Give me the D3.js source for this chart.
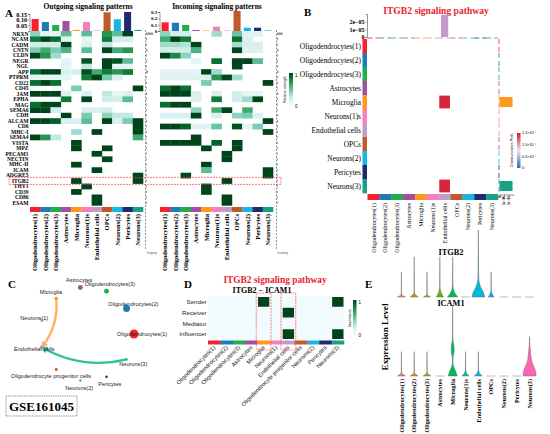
<!DOCTYPE html>
<html><head><meta charset="utf-8">
<script src="https://cdn.jsdelivr.net/npm/d3@7"></script>
<style>body{margin:0;background:#fff}svg{display:block}</style>
</head><body>
<svg id="chart" width="550" height="434"></svg>
<script>
// ---------------- DATA ----------------
const cellTypes = ["Oligodendrocytes(1)","Oligodendrocytes(2)","Oligodendrocytes(3)","Astrocytes","Microglia","Neurons(1)","Endothelial cells","OPCs","Neurons(2)","Pericytes","Neurons(3)"];
const cellLabelsAB = ["Oligodendrocytes(1)","Oligodendrocytes(2)","Oligodendrocytes(3)","Astrocytes","Microglia","Neurons(1)s","Endothelial cells","OPCs","Neurons(2)","Pericytes","Neurons(3)"];
const cellLabelsCD = ["Oligodendrocytes(1)","Oligodendrocytes(2)","Oligodendrocytes(3)","Astrocytes","Microglia","Neurons(1)","Endothelial cells","Oligodendrocyte progenitor cells","Neurons(2)","Pericytes","Neurons(3)"];
const cellColors = ["#f8202c","#1f7ab6","#20b04b","#a24fa3","#fd9a1e","#f680be","#c49bc9","#c05a2a","#19b5e6","#1f2a6f","#16a283"];
const violinColors = ["#F8766D","#DB8E00","#AEA200","#64B200","#00BD5C","#00C1A7","#00BADE","#00A6FF","#B385FF","#EF67EB","#FF63B6"];

const pathways = ["NRXN","NCAM","CADM","CNTN","CLDN","NEGR","NGL","APP","PTPRM","CD22","CD45","JAM","EPHA","MAG","SEMA6","CDH","ALCAM","CD6","MHC-I","SEMA4","VISTA","MPZ","PECAM1","NECTIN","MHC-II","ICAM","ADGRE5","ITGB2","THY1","CD39","CD86","ESAM"];

const outgoing = [
 [0.35,0.05,0.05,0.5,0,0.5,0,0.7,0.5,1,0],
 [0.8,1,0.85,0.08,0,0.05,0,0.8,0.15,0.15,0],
 [0.15,0.15,0.15,1,0,0.1,0,0.2,0,0,0],
 [0.4,0.6,0.4,0.55,0,0.5,0,1,0.6,0.7,0],
 [1,0.7,0.3,0,0,0,0,0,0,0,0],
 [0,0,0,0.05,0,0.95,0,1,0.95,0.5,0],
 [0,0,0,0.05,0,0.2,0,1,0.05,0.05,0],
 [0.85,1,1,0.1,0.1,0.95,0.6,0.8,0.7,0.8,0],
 [0.05,0.05,0.05,0.05,0,0.8,1,0.4,0.1,0,0],
 [0.85,1,0.85,0,0,0,0,0,0,0,0],
 [0,0,0,0,0.4,0,0,0,0,0,1],
 [1,1,1,0.1,0,0.1,0,0.2,0.05,0.1,0],
 [0,0,0,0.8,0,1,0,0.15,0.15,0.5,0],
 [0.85,1,1,0,0,0,0,0,0,0,0],
 [1,1,0.15,0,0,0.1,0.1,0.15,0,0,0],
 [0,0,0,1,0,0.4,0,0.35,0.2,0.2,0],
 [1,1,0.9,0.1,0.1,0.5,0,1,0.1,0.4,1],
 [0,0,0,0,0,0,0,0,0,0,1],
 [0,0,0,0,0.3,0,1,0,0,0,1],
 [1,0.7,0.2,0,0,0,0,0,0,0,0.6],
 [0,0,0,0,1,0,0,0,0,0,0],
 [0,0,0,0,1,0,0,1,0,0,0],
 [0,0,0,0,0,0,1,0,0,0,0],
 [0,0,0,0,0,0,0,1,0,0,0],
 [0,0,0,0,1,0,0,0,0,0,0],
 [0,0,0,0,0,0,1,0,0,0,0],
 [0,0,0,0,0,0,0,0,0,0,1],
 [0,0,0,0,1,0,0,0,0,0,1],
 [0,0,0,0,0,1,0,0,0,0,0],
 [0,0,0,0,1,0,0,0,0,0,0],
 [0,0,0,0,0,0,1,0,0,0,0],
 [0,0,0,0,0,0,1,0,0,0,0]
];
const incoming = [
 [0.35,0.15,0.15,0,0,0.3,0,0.45,0.08,0.08,0],
 [0.6,1,0.8,0,0,0,0,0.85,0.1,0,0],
 [0.3,0.3,0.25,1,0,0,0,0.3,0.12,0.12,0],
 [0.15,0.15,0.15,0.55,0,0,0,1,0.1,0.1,0],
 [1,0.75,0.35,0,0,0,0,0,0,0,0],
 [0,0,0,0.05,0,0.85,0,1,1,0.5,0],
 [0,0,0,0,0,0,0,1,0,0,0],
 [0.06,0.06,0.06,0.05,1,0.3,0,0,0,0,0],
 [0.08,0.08,0.08,0.08,0.1,0.7,1,0.3,0,0,0],
 [0,0,0,0,0.4,0,0,0,0,0,1],
 [0.85,1,0.85,0,0,0,0,0,0,0,0],
 [1,1,1,0.1,0,0.1,0,0.15,0.05,0.05,0],
 [0,0,0,0.1,0,0.8,0,0.15,0.3,1,0],
 [0.85,1,1,0,0,0,0,0,0,0,0],
 [0,0,0,0.35,0,0.6,1,0,0.6,0,0],
 [0.1,0.1,0.1,1,0,0.1,0,0.35,0.4,0.1,0],
 [0,0,0,0,0,0,0,0,0,0,1],
 [1,1,0.9,0.08,0.08,0.45,0,0.95,0.05,0.4,0],
 [0,0,0,0,0,0,0,0,0,0,1],
 [0,0,0,1,0,0,0,0,0,0,0],
 [1,1,1,1,0,0.9,0,1,0,0,0],
 [0,0,0,0,1,0,0,1,0,0,0],
 [0,0,0,0,0,0,1,0,0,0,0],
 [0,0,0,0,0,0,1,0,0,0,0],
 [0,0,0,0,1,0,0,0,0,0,0],
 [0,0,0,0,0.5,0,0,0,0,0,1],
 [0,0,1,0,0,0,0,0,0,0,1],
 [0,0,0,0,0,0,1,0,0,0,0],
 [0,0,0,0,1,0,0,0,0,0,0],
 [0,0,0,0,1,0,0,0,0,0,0],
 [0,0,0,0,0,0,1,0,0,0,0],
 [0,0,0,0,0,0,1,0,0,0,0]
];
const outgoingTotals = [0.106,0.08,0.053,0.088,0.01,0.08,0.005,0.165,0.104,0.168,0.01];
const incomingTotals = [0.137,0.131,0.095,0.016,0.008,0.068,0.008,0.316,0.052,0.052,0.008];
const outgoingTicks = [0.05,0.10,0.15];
const incomingTicks = [0,0.1,0.2,0.3];
const outgoingRowTotals = [0.9,0.15,0.12,0.2,0.12,0.15,0.12,0.25,0.12,0.12,0.1,0.15,0.12,0.1,0.1,0.12,0.15,0.1,0.1,0.1,0.1,0.1,0.1,0.1,0.1,0.1,0.1,0.1,0.1,0.1,0.1,0.1];
const incomingRowTotals = [0.7,0.15,0.12,0.2,0.12,0.15,0.12,0.2,0.12,0.12,0.1,0.15,0.12,0.1,0.1,0.12,0.15,0.1,0.1,0.1,0.1,0.1,0.1,0.1,0.1,0.1,0.1,0.1,0.1,0.1,0.1,0.1];

// B: ITGB2 communication probability (sender -> receiver)
const itgb2Links = [
 {source:"Microglia", target:"Endothelial cells", prob:1.45e-5},
 {source:"Neurons(3)", target:"Endothelial cells", prob:1.45e-5}
];
const bTopTicks = [0,1e-5,2e-5];
const bTopTickLabels = ["0","1e\u221205","2e\u221205"];
const bRightTicks = [0,5e-6,1e-5];
const bRightTickLabels = ["0","5e\u221206","1e\u221205"];
const commProbLegend = ["0","0.5\u00d710\u207b\u2075","1.0\u00d710\u207b\u2075","1.5\u00d710\u207b\u2075"];

// C: cell group sizes
const cellCounts = [2000,1200,600,600,300,200,400,200,150,150,100];

// D: network centrality
const roles = ["Sender","Receiver","Mediator","Influencer"];
const centrality = [
 [0,0,0,0,1,0,0,0,0,0,1],
 [0,0,0,0,0,0,1,0,0,0,0],
 [0,0,0,0,0,0,0,0,0,0,0],
 [0,0,0,0,0,0,1,0,0,0,1]
];
const highlightedD = ["Microglia","Endothelial cells"];

// E: violin plots (max expression and relative density profile from 0 to max)
const itgb2Max = [1.5,2.4,1.5,2.4,2.4,0,4.0,1.5,0,0,0];
const itgb2Profiles = [
 [0.6,0.04,0.02,0.02,0.02,0.02,0.015,0.01,0.01,0],
 [0.6,0.04,0.02,0.02,0.02,0.02,0.015,0.01,0.01,0],
 [0.55,0.04,0.02,0.02,0.02,0.02,0.015,0.01,0.01,0],
 [0.55,0.2,0.05,0.03,0.02,0.02,0.015,0.01,0.01,0],
 [0.8,0.3,0.08,0.03,0.02,0.02,0.015,0.01,0.01,0],
 [],
 [1.0,0.75,0.35,0.12,0.06,0.04,0.04,0.03,0.03,0.02,0.02,0.02,0.01,0],
 [0.45,0.15,0.04,0.02,0.02,0.015,0.01,0.01,0],
 [],[],[]
];
const icam1Max = [1.03,1.03,1.03,0,3.0,1.03,1.03,0,0,0,1.66];
const icam1Profiles = [
 [0.6,0.04,0.02,0.02,0.02,0.015,0.01,0],
 [0.6,0.04,0.02,0.02,0.02,0.015,0.01,0],
 [0.6,0.04,0.02,0.02,0.02,0.015,0.01,0],
 [],
 [0.7,0.45,0.12,0.04,0.1,0.24,0.2,0.06,0.03,0.02,0.02,0.02,0.015,0.01,0],
 [0.55,0.12,0.03,0.02,0.015,0.01,0.01,0],
 [0.6,0.15,0.03,0.02,0.015,0.01,0.01,0],
 [],[],[],
 [1.0,0.95,0.7,0.42,0.26,0.18,0.12,0.06,0.03,0]
];

// ---------------- DRAWING ----------------
const svg = d3.select("#chart");
svg.append("rect").attr("width",550).attr("height",434).attr("fill","#fff");
const SERIF = "'Liberation Serif','Times New Roman',serif";
const SANS = "'Liberation Sans',Arial,sans-serif";
const heatColor = v => v <= 0 ? "#ffffff" : d3.interpolateBuGn(0.08 + 0.92*v);
const defs = svg.append("defs");

function txt(g, x, y, s, size, opts={}) {
  return g.append("text").attr("x",x).attr("y",y).text(s)
    .attr("font-family", opts.family || SERIF).attr("font-size", size)
    .attr("font-weight", opts.bold ? "bold" : "normal")
    .attr("text-anchor", opts.anchor || "start")
    .attr("fill", opts.fill || "#000");
}
function vGradient(id, interp, n=10) {
  const lg = defs.append("linearGradient").attr("id",id).attr("x1",0).attr("x2",0).attr("y1",1).attr("y2",0);
  d3.range(n+1).forEach(i => lg.append("stop").attr("offset", i/n).attr("stop-color", interp(i/n)));
}

// ===== Panel A =====
const gA = svg.append("g");
txt(gA, 5, 17, "A", 11, {bold:true});
const yA = d3.scaleBand().domain(pathways).range([31, 205.4]);

function drawHeat(cfg) {
  const g = gA.append("g");
  const x = cfg.x;
  txt(g, cfg.titleX, 9, cfg.title, 7.5, {bold:true, anchor:"middle"});
  g.selectAll("rect.bar").data(cellTypes).join("rect")
    .attr("x", d => x(d)+1.6).attr("width", x.bandwidth()-3.2)
    .attr("y", (d,i) => cfg.barScale(cfg.totals[i]))
    .attr("height", (d,i) => cfg.barScale(0)-cfg.barScale(cfg.totals[i]))
    .attr("fill", (d,i) => cellColors[i]);
  const ax = g.append("g").attr("transform", `translate(${x.range()[0]-0.5},0)`)
    .call(d3.axisLeft(cfg.barScale).tickValues(cfg.ticks).tickFormat(cfg.fmt).tickSize(1.5).tickPadding(0.8));
  ax.selectAll("text").attr("font-family",SERIF).attr("font-weight","bold").attr("font-size",cfg.tickFont).attr("fill","#000");
  ax.selectAll("path,line").attr("stroke","#333").attr("stroke-width",0.5);
  const cells = cfg.matrix.flatMap((row,r) => row.map((v,c) => ({r,c,v}))).filter(d => d.v > 0);
  g.selectAll("rect.cell").data(cells).join("rect")
    .attr("x", d => x(cellTypes[d.c])).attr("width", x.bandwidth()+0.3)
    .attr("y", d => yA(pathways[d.r])).attr("height", yA.bandwidth()+0.3)
    .attr("fill", d => heatColor(d.v));
  g.selectAll("rect.strip").data(cellTypes).join("rect")
    .attr("x", d => x(d)).attr("width", x.bandwidth()+0.3)
    .attr("y", 207).attr("height", 5).attr("fill", (d,i) => cellColors[i]);
  g.selectAll("text.col").data(cellLabelsAB).join("text")
    .attr("transform", (d,i) => `translate(${x(cellTypes[i]) + x.bandwidth()/2 + 2.3},214) rotate(-90)`)
    .attr("text-anchor","end").attr("font-family",SERIF).attr("font-weight","bold").attr("font-size",6.6)
    .text(d => d);
  g.append("line").attr("x1",cfg.annX).attr("x2",cfg.annX).attr("y1",30).attr("y2",250)
    .attr("stroke","#444").attr("stroke-width",0.6).attr("stroke-dasharray","2,1.5");
  const wS = d3.scaleLinear().domain([0,1]).range([0,8]);
  g.selectAll("rect.rt").data(pathways).join("rect")
    .attr("x", cfg.annX+0.5).attr("y", d => yA(d)+1.5).attr("height", yA.bandwidth()-3)
    .attr("width", (d,i) => wS(cfg.rowTotals[i])).attr("fill","#9a9a9a");
  txt(g, cfg.annX+1, 254, cfg.annLabel, 2.6, {family:SANS, fill:"#555"});
}

const xOut = d3.scaleBand().domain(cellTypes).range([30,143]);
const xIn = d3.scaleBand().domain(cellTypes).range([160,273]);
drawHeat({x:xOut, matrix:outgoing, totals:outgoingTotals,
  barScale:d3.scaleLinear().domain([0,0.15]).range([31,14]), ticks:outgoingTicks, fmt:d3.format(".2f"), tickFont:6.3,
  title:"Outgoing signaling patterns", titleX:88, annX:145.5, rowTotals:outgoingRowTotals, annLabel:"Outgoing"});
drawHeat({x:xIn, matrix:incoming, totals:incomingTotals,
  barScale:d3.scaleLinear().domain([0,0.3]).range([31,12]), ticks:incomingTicks, fmt:d3.format(".1~f"), tickFont:5,
  title:"Incoming signaling patterns", titleX:217, annX:276.5, rowTotals:incomingRowTotals, annLabel:"Incoming"});

gA.selectAll("text.row").data(pathways).join("text")
  .attr("x", 28.5).attr("y", d => yA(d)+yA.bandwidth()/2).attr("dy","0.35em")
  .attr("text-anchor","end").attr("font-family",SERIF).attr("font-weight","bold").attr("font-size",5.5)
  .text(d => d);
gA.append("rect").attr("x",9).attr("y",yA("ITGB2")-0.8).attr("width",272).attr("height",yA.bandwidth()+1.6)
  .attr("fill","none").attr("stroke","#ff3b4e").attr("stroke-width",0.7).attr("stroke-dasharray","2,1");
vGradient("gA", t => d3.interpolateBuGn(t));
gA.append("rect").attr("x",289).attr("y",73).attr("width",4).attr("height",33).attr("fill","url(#gA)");
txt(gA, 295, 77, "1", 4.5, {family:SANS});
txt(gA, 295, 108, "0", 4.5, {family:SANS});
gA.append("text").attr("transform","translate(286,89.5) rotate(-90)").attr("text-anchor","middle")
  .attr("font-family",SANS).attr("font-size",3.6).text("Relative strength");

// ===== Panel B =====
const gB = svg.append("g");
txt(gB, 304, 16, "B", 11, {bold:true});
txt(gB, 436, 14, "ITGB2 signaling pathway", 9.6, {bold:true, anchor:"middle", fill:"#e8232f"});
const xB = d3.scaleBand().domain(cellTypes).range([367.5, 498]);
const yB = d3.scaleBand().domain(cellTypes).range([39, 193]);
const bColor = d3.scaleLinear().domain([0,0.75e-5,1.5e-5]).range(["#2f6db4","#efe3ea","#d2182f"]);
gB.selectAll("text.rl").data(cellLabelsAB).join("text")
  .attr("x",361).attr("y",(d,i)=>yB(cellTypes[i])+yB.bandwidth()/2).attr("dy","0.35em")
  .attr("text-anchor","end").attr("font-family",SERIF).attr("font-size",7.4).text(d=>d);
gB.selectAll("rect.rs").data(cellTypes).join("rect")
  .attr("x",362.5).attr("width",4.5).attr("y",d=>yB(d)).attr("height",yB.bandwidth()+0.3)
  .attr("fill",(d,i)=>cellColors[i]);
gB.selectAll("rect.cs").data(cellTypes).join("rect")
  .attr("y",194).attr("height",6).attr("x",d=>xB(d)).attr("width",xB.bandwidth()+0.3)
  .attr("fill",(d,i)=>cellColors[i]);
gB.selectAll("text.cl").data(cellLabelsAB).join("text")
  .attr("transform",(d,i)=>`translate(${xB(cellTypes[i])+xB.bandwidth()/2+2.1},203) rotate(-90)`)
  .attr("text-anchor","end").attr("font-family",SERIF).attr("font-size",6).text(d=>d);
gB.selectAll("rect.bc").data(itgb2Links).join("rect")
  .attr("x",d=>xB(d.target)+0.6).attr("width",xB.bandwidth()-1.2)
  .attr("y",d=>yB(d.source)+0.6).attr("height",yB.bandwidth()-1.2)
  .attr("fill",d=>bColor(d.prob));
const colSums = cellTypes.map(c => d3.sum(itgb2Links.filter(l=>l.target===c), l=>l.prob));
const rowSums = cellTypes.map(c => d3.sum(itgb2Links.filter(l=>l.source===c), l=>l.prob));
const yBTop = d3.scaleLinear().domain([0,3e-5]).range([37,14]);
gB.selectAll("rect.tb").data(cellTypes).join("rect")
  .attr("x",d=>xB(d)+2.3).attr("width",xB.bandwidth()-4.6)
  .attr("y",(d,i)=>yBTop(colSums[i])).attr("height",(d,i)=>yBTop(0)-yBTop(colSums[i]))
  .attr("fill",(d,i)=>cellColors[i]);
const axT = gB.append("g").attr("transform","translate(367,0)")
  .call(d3.axisLeft(yBTop).tickValues(bTopTicks).tickFormat((d,i)=>bTopTickLabels[i]).tickSize(1.5).tickPadding(1));
axT.selectAll("text").attr("font-family",SERIF).attr("font-weight","bold").attr("font-size",6).attr("fill","#000");
axT.selectAll("path,line").attr("stroke","#333").attr("stroke-width",0.5);
gB.selectAll("line.td").data(cellTypes).join("line")
  .attr("x1",d=>xB(d)).attr("x2",d=>xB(d)+xB.bandwidth()).attr("y1",38).attr("y2",38)
  .attr("stroke",(d,i)=>cellColors[i]).attr("stroke-width",0.8).attr("stroke-dasharray","5,3");
const xBR = d3.scaleLinear().domain([0,1.5e-5]).range([499.5,513]);
gB.selectAll("rect.rb").data(cellTypes).join("rect")
  .attr("y",d=>yB(d)+2).attr("height",yB.bandwidth()-4)
  .attr("x",xBR(0)).attr("width",(d,i)=>xBR(rowSums[i])-xBR(0))
  .attr("fill",(d,i)=>cellColors[i]);
gB.selectAll("line.rd").data(cellTypes).join("line")
  .attr("y1",d=>yB(d)).attr("y2",d=>yB(d)+yB.bandwidth()).attr("x1",499).attr("x2",499)
  .attr("stroke",(d,i)=>cellColors[i]).attr("stroke-width",0.8).attr("stroke-dasharray","5,3");
const axR = gB.append("g").attr("transform","translate(0,194.5)")
  .call(d3.axisBottom(xBR).tickValues(bRightTicks).tickFormat((d,i)=>bRightTickLabels[i]).tickSize(1.5).tickPadding(1));
axR.selectAll("text").attr("font-family",SERIF).attr("font-weight","bold").attr("font-size",3.6).attr("fill","#000")
  .attr("text-anchor","end").attr("transform","rotate(-90)").attr("dx","-0.4em").attr("dy","-0.45em");
axR.selectAll("path,line").attr("stroke","#333").attr("stroke-width",0.5);
vGradient("gB", t => bColor(t*1.5e-5));
gB.append("rect").attr("x",517).attr("y",133).attr("width",3.5).attr("height",35).attr("fill","url(#gB)");
const yBL = d3.scaleLinear().domain([0,3]).range([168,133]);
commProbLegend.forEach((s,i)=> txt(gB, 522, yBL(i)+1.3, s, 3.8, {family:SANS}));
gB.append("text").attr("transform","translate(513,150) rotate(-90)").attr("text-anchor","middle")
  .attr("font-family",SANS).attr("font-size",3.6).text("Communication Prob.");

// ===== Panel C =====
const gC = svg.append("g");
txt(gC, 8, 288, "C", 11, {bold:true});
const cCenter = [87, 334], cRadius = 47;
const ang = d3.scaleLinear().domain([0, cellTypes.length]).range([0, -2*Math.PI]);
const rSize = d3.scaleSqrt().domain([0, d3.max(cellCounts)]).range([0, 4.5]);
const nodes = cellTypes.map((c,i) => ({name:c, label:cellLabelsCD[i], color:cellColors[i], a:ang(i),
  x: cCenter[0] + cRadius*Math.cos(ang(i)), y: cCenter[1] + cRadius*Math.sin(ang(i)), r: rSize(cellCounts[i])}));
const nodeBy = Object.fromEntries(nodes.map(n=>[n.name,n]));
const edgeColors = {"Microglia":"#ffb062","Neurons(3)":"#2fc29b"};
itgb2Links.forEach((l,k) => {
  const s = nodeBy[l.source], t = nodeBy[l.target];
  const dx = t.x - s.x, dy = t.y - s.y;
  const cx = (s.x+t.x)/2 + 0.2*dy, cy = (s.y+t.y)/2 - 0.2*dx;
  const p = d3.path(); p.moveTo(s.x, s.y); p.quadraticCurveTo(cx, cy, t.x, t.y);
  const col = edgeColors[l.source];
  defs.append("marker").attr("id","ar"+k).attr("viewBox","0 0 10 10").attr("refX",8).attr("refY",5)
    .attr("markerWidth",3).attr("markerHeight",3).attr("orient","auto")
    .append("path").attr("d","M0,0L10,5L0,10z").attr("fill",col);
  gC.append("path").attr("d",p.toString()).attr("fill","none").attr("stroke",col)
    .attr("stroke-width",2.4).attr("stroke-linecap","round").attr("marker-end","url(#ar"+k+")");
});
gC.selectAll("circle.n").data(nodes).join("circle")
  .attr("cx",d=>d.x).attr("cy",d=>d.y).attr("r",d=>d.r).attr("fill",d=>d.color);
gC.selectAll("text.nl").data(nodes).join("text")
  .attr("x",d=>d.x + 8*Math.cos(d.a)).attr("y",d=>d.y + 8*Math.sin(d.a)).attr("dy","0.35em")
  .attr("text-anchor","middle").attr("font-family",SANS).attr("font-size",5.6).attr("fill","#222")
  .text(d=>d.label);
gC.append("rect").attr("x",6).attr("y",396).attr("width",71).attr("height",20)
  .attr("fill","none").attr("stroke","#555").attr("stroke-width",0.7).attr("stroke-dasharray","1,0.8");
txt(gC, 41.5, 411, "GSE161045", 13, {bold:true, anchor:"middle"});

// ===== Panel D =====
const gD = svg.append("g");
txt(gD, 184, 288, "D", 11, {bold:true});
txt(gD, 275, 283, "ITGB2 signaling pathway", 9.4, {bold:true, anchor:"middle", fill:"#e8232f"});
txt(gD, 262, 293, "ITGB2 \u2212 ICAM1", 8, {bold:true, anchor:"middle"});
const xD = d3.scaleBand().domain(cellTypes).range([208,344]);
const yD = d3.scaleBand().domain(roles).range([296.5,339.5]);
const dCells = centrality.flatMap((row,r)=>row.map((v,c)=>({r,c,v})));
gD.selectAll("rect.dbg").data(dCells).join("rect")
  .attr("x",d=>xD(cellTypes[d.c])).attr("width",xD.bandwidth()+0.3)
  .attr("y",d=>yD(roles[d.r])).attr("height",yD.bandwidth()+0.3)
  .attr("fill",d=> d.v>0 ? "#ffffff" : d3.interpolateBuGn(0.04));
gD.selectAll("rect.dc").data(dCells.filter(d=>d.v>0)).join("rect")
  .attr("x",d=>xD(cellTypes[d.c])+0.5).attr("width",xD.bandwidth()-1)
  .attr("y",d=>yD(roles[d.r])+0.5).attr("height",yD.bandwidth()-1)
  .attr("fill",d=>d3.interpolateBuGn(d.v));
gD.selectAll("text.dr").data(roles).join("text")
  .attr("x",206.5).attr("y",d=>yD(d)+yD.bandwidth()/2).attr("dy","0.35em").attr("text-anchor","end")
  .attr("font-family",SANS).attr("font-size",6.2).attr("fill","#222").text(d=>d);
gD.selectAll("rect.ds").data(cellTypes).join("rect")
  .attr("x",d=>xD(d)).attr("width",xD.bandwidth()+0.3).attr("y",340.5).attr("height",4)
  .attr("fill",(d,i)=>cellColors[i]);
gD.selectAll("text.dl").data(cellLabelsCD).join("text")
  .attr("transform",(d,i)=>`translate(${xD(cellTypes[i])+xD.bandwidth()/2+1.5},348) rotate(-45)`)
  .attr("text-anchor","end").attr("font-family",SANS).attr("font-size",5.8).attr("fill","#222").text(d=>d);
gD.selectAll("rect.hl").data(highlightedD).join("rect")
  .attr("x",d=>xD(d)-1.2).attr("width",xD.bandwidth()+2.4).attr("y",293).attr("height",57)
  .attr("fill","none").attr("stroke","#ff4a5a").attr("stroke-width",0.7).attr("stroke-dasharray","2,1");
vGradient("gD", t => d3.interpolateBuGn(t));
gD.append("rect").attr("x",353).attr("y",300).attr("width",3.5).attr("height",36).attr("fill","url(#gD)");
txt(gD, 358.5, 304, "1", 4.5, {family:SANS});
txt(gD, 358.5, 337, "0", 4.5, {family:SANS});
gD.append("text").attr("transform","translate(350.5,318) rotate(-90)").attr("text-anchor","middle")
  .attr("font-family",SANS).attr("font-size",3.6).text("Importance");

// ===== Panel E =====
const gE = svg.append("g");
txt(gE, 365, 288, "E", 11, {bold:true});
const xE = d3.scaleBand().domain(cellTypes).range([395,536]);
const wE = d3.scaleLinear().domain([0,1]).range([0,6.5]);
function violins(maxVals, profiles, yS, gene, titleY) {
  txt(gE, 451, titleY, gene, 8.3, {bold:true, anchor:"middle"});
  cellTypes.forEach((c,i) => {
    const cx = xE(c) + xE.bandwidth()/2;
    if (!maxVals[i]) {
      gE.append("line").attr("x1",cx-4.5).attr("x2",cx+4.5).attr("y1",yS(0)).attr("y2",yS(0))
        .attr("stroke","#777").attr("stroke-width",0.5);
      return;
    }
    const prof = profiles[i];
    const pts = prof.map((w,k)=>({v: maxVals[i]*k/(prof.length-1), w}));
    const area = d3.area().curve(d3.curveMonotoneY)
      .y(d=>yS(d.v)).x0(d=>cx - wE(d.w)).x1(d=>cx + wE(d.w));
    gE.append("path").attr("d",area(pts)).attr("fill",violinColors[i])
      .attr("stroke","#666").attr("stroke-width",0.45);
  });
}
violins(itgb2Max, itgb2Profiles, d3.scaleLinear().domain([0,4]).range([297,230]), "ITGB2", 255);
violins(icam1Max, icam1Profiles, d3.scaleLinear().domain([0,3]).range([376,305]), "ICAM1", 306);
gE.append("text").attr("transform","translate(388,337) rotate(-90)").attr("text-anchor","middle")
  .attr("font-family",SERIF).attr("font-weight","bold").attr("font-size",9.2).text("Expression Level");
gE.selectAll("text.el").data(cellLabelsAB).join("text")
  .attr("transform",(d,i)=>`translate(${xE(cellTypes[i])+xE.bandwidth()/2+2.2},379) rotate(-90)`)
  .attr("text-anchor","end").attr("font-family",SERIF).attr("font-weight","bold").attr("font-size",6.2).text(d=>d);
</script>
</body></html>
